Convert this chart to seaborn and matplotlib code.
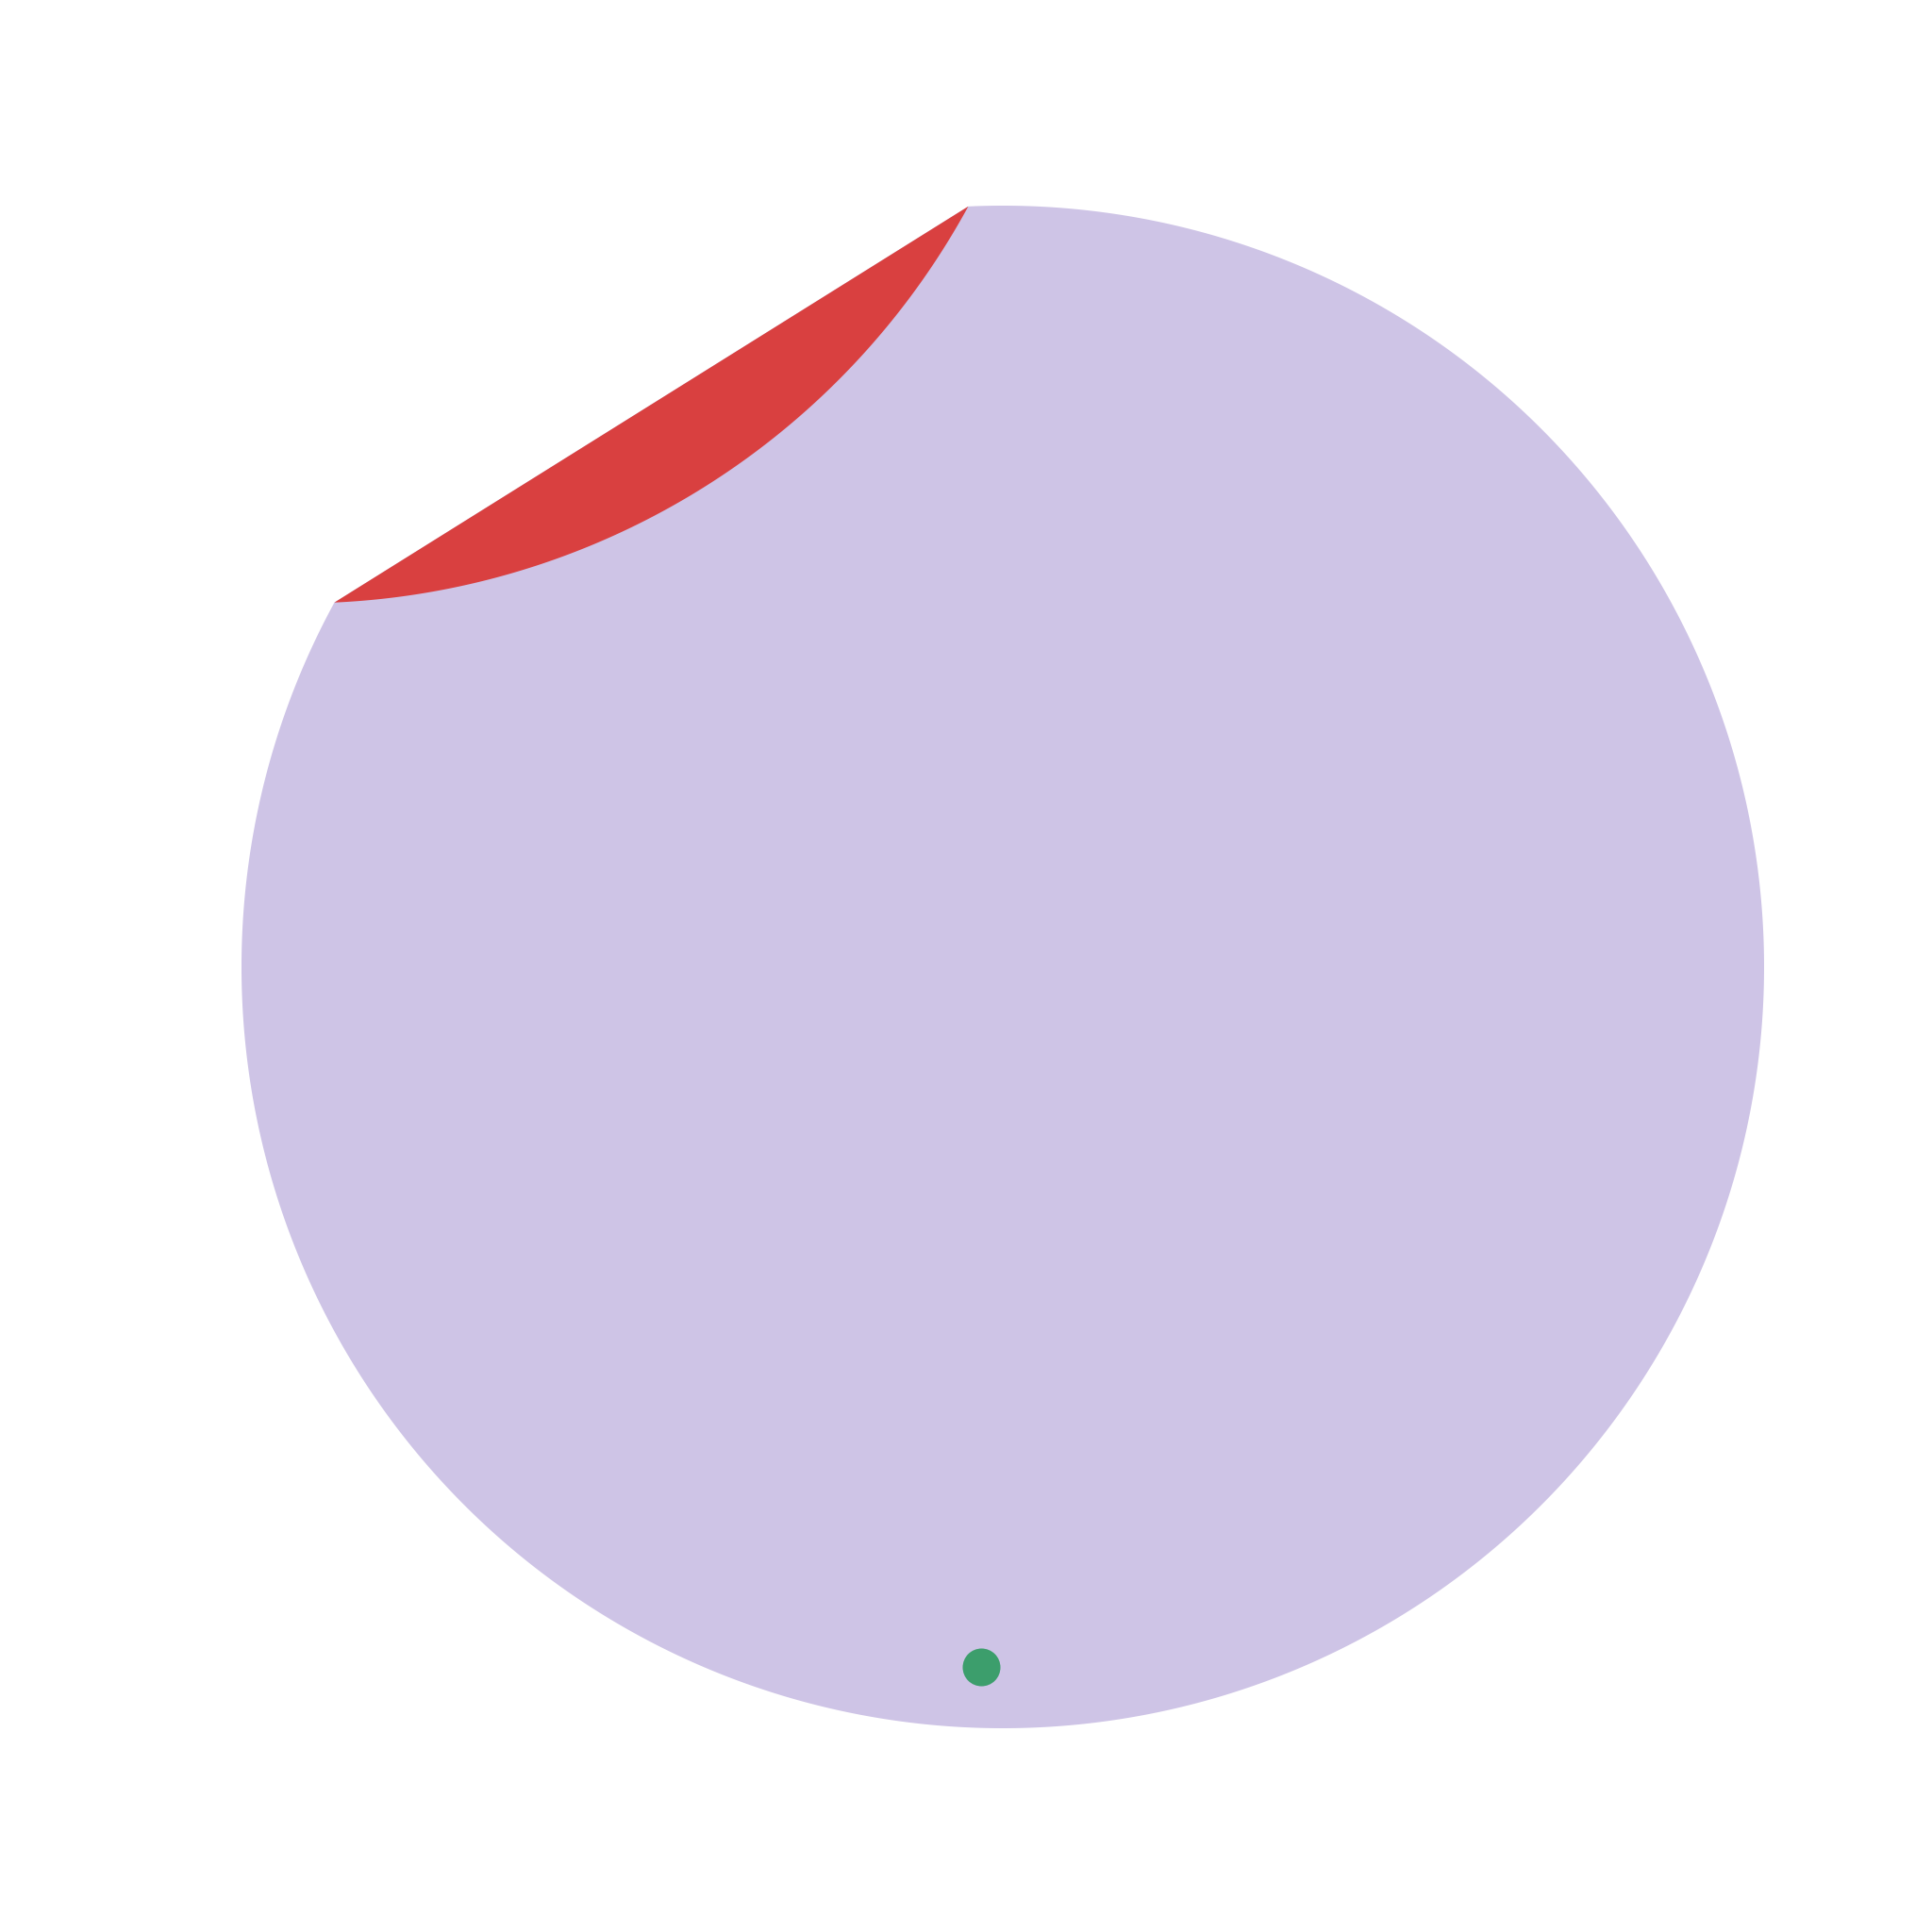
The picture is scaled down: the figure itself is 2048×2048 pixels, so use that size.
import numpy as np
import pandas as pd
import matplotlib
matplotlib.use("Agg")
import matplotlib.pyplot as plt
import seaborn as sns

# ---- data (pixel-space units, y grows downward) ----
circle_center = [1063, 1025]
circle_radius = [807]
fold_angles_deg = [92.6, 151.4]      # where the peeled corner meets the rim
dot_x = [1040]
dot_y = [1767]

disc_color = "#CEC4E6"
flap_color = "#D94040"
dot_color = "#3C9E6C"

sns.set_theme(style="white")
fig = plt.figure(figsize=(20.48, 20.48), dpi=100)
ax = fig.add_axes([0, 0, 1, 1])
ax.set_xlim(0, 2048)
ax.set_ylim(2048, 0)
ax.set_aspect("equal")
ax.axis("off")

cx, cy = circle_center
R = circle_radius[0]
a1, a2 = np.radians(fold_angles_deg)

def rim(theta):
    return np.column_stack([cx + R * np.cos(theta), cy - R * np.sin(theta)])

# main disc: rim from a2 all the way round to a1, closed by the fold chord
body = rim(np.linspace(a2, a1 + 2 * np.pi, 800))
ax.fill(body[:, 0], body[:, 1], color=disc_color, lw=0, zorder=1)

# flap: the removed cap reflected across the fold chord
cap = rim(np.linspace(a1, a2, 300))
p1, p2 = cap[0], cap[-1]
d = (p2 - p1) / np.linalg.norm(p2 - p1)
rel = cap - p1
proj = p1 + np.outer(rel @ d, d)
flap = 2 * proj - cap
ax.fill(flap[:, 0], flap[:, 1], color=flap_color, lw=0, zorder=2)

df = pd.DataFrame({"x": dot_x, "y": dot_y})
sns.scatterplot(data=df, x="x", y="y", ax=ax, s=830, color=dot_color,
                linewidth=0, zorder=3, legend=False)
ax.set_xlim(0, 2048)
ax.set_ylim(2048, 0)
ax.axis("off")

fig.savefig("out.png", dpi=100, facecolor="white")
